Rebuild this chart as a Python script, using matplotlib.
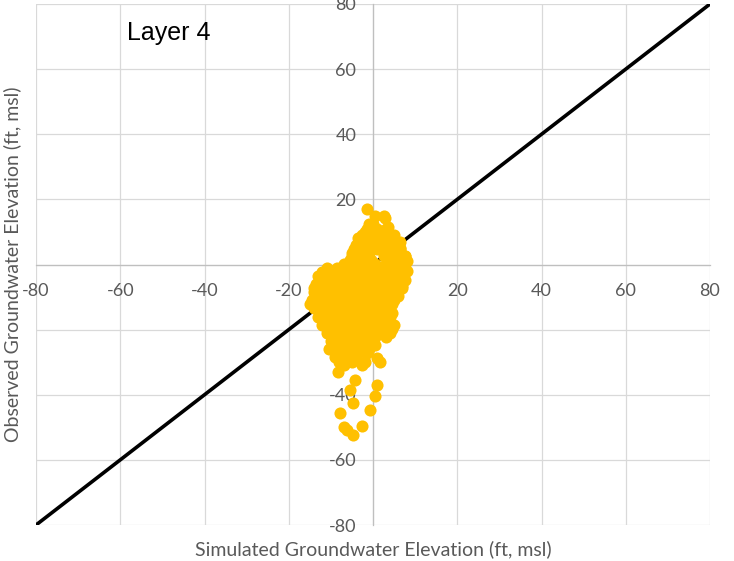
import matplotlib
matplotlib.use("Agg")
import matplotlib.pyplot as plt

plt.rcParams["axes.unicode_minus"] = False

# simulated (x) vs observed (y) groundwater elevation, ft msl
sim_x = [
    -1.5, 0.5, 2.5, 2.9,
    -1.0, 0.0, 3.6,
    -2.0, 0.5, 2.0,
    -3.5, -1.0, 1.5, 4.0, 6.0,
    -4.0, -2.0, 0.0, 2.5, 5.0, 6.5,
    -5.0, -3.0, -1.0, 3.0, 5.0, 7.5,
    -5.5, -3.5, -0.5, 4.0, 6.0, 8.0,
    -11.0, -8.5, -6.0, -3.5, -1.0, 1.5, 4.0, 6.5, 8.0,
    -13.0, -10.5, -8.0, -5.5, -3.0, -0.5, 2.0, 4.5, 7.0,
    -13.5, -11.0, -8.5, -6.0, -3.5, -1.0, 1.5, 4.0, 7.0,
    -14.0, -11.5, -9.0, -6.5, -4.0, -1.5, 1.0, 3.5, 6.0,
    -14.5, -12.0, -9.5, -7.0, -4.5, -2.0, 0.5, 3.0, 5.0,
    -14.0, -11.5, -9.0, -6.5, -4.0, -1.5, 1.0, 3.5,
    -13.0, -10.5, -8.0, -5.5, -3.0, -0.5, 2.0, 4.0,
    -12.0, -9.5, -7.0, -4.5, -2.0, 0.5, 3.0, 5.0,
    -11.0, -8.5, -6.0, -3.5, -1.0, 1.5, 4.0,
    -10.0, -7.5, -5.0, -2.5, 0.0,
    -10.5, -8.0, -5.5, -3.0, -1.0,
    -9.0, -6.5, -4.0, 1.0,
    -7.0, -2.7, 1.7,
    -8.3, -4.3, -5.5, -4.7, -7.8, 0.9, 0.5, -0.7,
    -6.2, -4.7, -2.7, -7.0,
    # in-between points of the dense cloud
    -1.5, 1.0, 3.0,
    -2.5, 0.0, 2.5, 5.0,
    -3.0, -0.5, 2.0, 4.5, 6.5,
    -4.5, -2.0, 1.0, 4.0, 6.5,
    -5.0, -2.5, 2.5, 5.5, 7.5,
    -7.0, -4.5, -2.0, 0.5, 3.0, 5.5, 7.5,
    -12.0, -9.5, -7.0, -4.5, -2.0, 0.5, 3.0, 5.5, 7.5,
    -12.5, -10.0, -7.5, -5.0, -2.5, 0.0, 2.5, 5.0, 7.5,
    -14.0, -12.5, -10.0, -7.5, -5.0, -2.5, 0.0, 2.5, 5.0, 7.0,
    -13.0, -10.5, -8.0, -5.5, -3.0, -0.5, 2.0, 4.5, 6.0,
    -15.0, -13.0, -10.5, -8.0, -5.5, -3.0, -0.5, 2.0, 4.5,
    -12.5, -10.0, -7.5, -5.0, -2.5, 0.0, 2.5, 4.5,
    -11.5, -9.0, -6.5, -4.0, -1.5, 1.0, 3.5,
    -10.5, -8.0, -5.5, -3.0, -0.5, 2.0, 4.5,
    -9.5, -7.0, -4.5, -2.0, 0.5, 3.0,
    -9.0, -6.5, -4.0, -1.5, 0.5,
    -8.5, -6.0, -3.5, -1.5,
    -8.0, -5.0, -2.0,
]
obs_y = [
    17.0, 15.0, 15.0, 14.3,
    12.5, 12.5, 11.6,
    10.0, 10.0, 10.0,
    8.0, 8.0, 8.0, 8.0, 6.5,
    6.0, 6.0, 6.0, 6.0, 6.0, 5.0,
    3.5, 3.5, 3.5, 3.5, 3.5, 2.5,
    1.5, 1.5, 1.5, 1.0, 1.5, 1.0,
    -1.0, -1.0, -1.0, -1.0, -1.0, -1.0, -1.0, -1.0, -2.0,
    -3.5, -3.5, -3.5, -3.5, -3.5, -3.5, -3.5, -3.5, -4.5,
    -6.0, -6.0, -6.0, -6.0, -6.0, -6.0, -6.0, -6.0, -6.5,
    -8.5, -8.5, -8.5, -8.5, -8.5, -8.5, -8.5, -8.5, -8.5,
    -11.0, -11.0, -11.0, -11.0, -11.0, -11.0, -11.0, -11.0, -11.0,
    -13.5, -13.5, -13.5, -13.5, -13.5, -13.5, -13.5, -13.5,
    -16.0, -16.0, -16.0, -16.0, -16.0, -16.0, -16.0, -16.0,
    -18.5, -18.5, -18.5, -18.5, -18.5, -18.5, -18.5, -18.5,
    -21.0, -21.0, -21.0, -21.0, -21.0, -21.0, -21.0,
    -23.5, -23.5, -23.5, -23.5, -23.5,
    -26.0, -26.0, -26.0, -26.0, -26.0,
    -28.5, -28.5, -28.5, -28.7,
    -31.0, -31.0, -30.0,
    -33.0, -35.4, -38.5, -42.5, -45.6, -37.0, -40.5, -44.6,
    -50.8, -52.3, -49.7, -50.0,
    # in-between points of the dense cloud
    11.0, 11.0, 11.0,
    9.0, 9.0, 9.0, 9.0,
    7.0, 7.0, 7.0, 7.0, 7.0,
    4.8, 4.8, 4.8, 4.8, 4.8,
    2.5, 2.5, 2.5, 2.5, 2.5,
    0.2, 0.2, 0.2, 0.2, 0.2, 0.2, 0.2,
    -2.2, -2.2, -2.2, -2.2, -2.2, -2.2, -2.2, -2.2, -2.2,
    -4.8, -4.8, -4.8, -4.8, -4.8, -4.8, -4.8, -4.8, -4.8,
    -7.2, -7.2, -7.2, -7.2, -7.2, -7.2, -7.2, -7.2, -7.2, -7.2,
    -9.8, -9.8, -9.8, -9.8, -9.8, -9.8, -9.8, -9.8, -9.8,
    -12.2, -12.2, -12.2, -12.2, -12.2, -12.2, -12.2, -12.2, -12.2,
    -14.8, -14.8, -14.8, -14.8, -14.8, -14.8, -14.8, -14.8,
    -17.2, -17.2, -17.2, -17.2, -17.2, -17.2, -17.2,
    -19.8, -19.8, -19.8, -19.8, -19.8, -19.8, -19.8,
    -22.2, -22.2, -22.2, -22.2, -22.2, -22.2,
    -24.8, -24.8, -24.8, -24.8, -24.8,
    -27.2, -27.2, -27.2, -27.2,
    -29.8, -29.8, -29.8,
]

ticks = [-80, -60, -40, -20, 0, 20, 40, 60, 80]
one_to_one = [-80, 80]

fig = plt.figure(figsize=(7.34, 5.61), dpi=100)
ax = fig.add_axes([36 / 734, 1 - 525 / 561, 674 / 734, 521 / 561])

# light grid drawn by hand so it sits under the dots
for t in ticks:
    ax.axvline(t, color="#d9d9d9", lw=0.9, zorder=0.5)
    ax.axhline(t, color="#d9d9d9", lw=0.9, zorder=0.5)

ax.plot(one_to_one, one_to_one, color="black", lw=2.6, zorder=1.5)
ax.scatter(sim_x, obs_y, s=76, color="#FFC000", linewidths=0, zorder=2)

ax.set_xlim(-80, 80)
ax.set_ylim(-80, 80)
ax.set_xticks(ticks)
ax.set_yticks(ticks)

for side in ["top", "right"]:
    ax.spines[side].set_visible(False)
for side in ["left", "bottom"]:
    ax.spines[side].set_position("zero")
    ax.spines[side].set_color("#bfbfbf")
    ax.spines[side].set_linewidth(0.9)
    ax.spines[side].set_zorder(0.8)

ax.tick_params(axis="x", length=0, pad=13, labelsize=13, labelcolor="#595959")
ax.tick_params(axis="y", length=0, pad=12, labelsize=13, labelcolor="#595959")
for lab in ax.get_xticklabels() + ax.get_yticklabels():
    lab.set_fontfamily("Lato")

ax.set_xlabel("Simulated Groundwater Elevation (ft, msl)", fontsize=14,
              color="#595959", family="Lato")
ax.xaxis.set_label_coords(0.5, -0.03)
ax.set_ylabel("Observed Groundwater Elevation (ft, msl)", fontsize=14,
              color="#595959", family="Lato")
ax.yaxis.set_label_coords(-0.022, 0.5)

ax.text(-58.4, 69, "Layer 4", fontsize=18, family="Liberation Sans", color="black")

fig.savefig("out.png", dpi=100)
